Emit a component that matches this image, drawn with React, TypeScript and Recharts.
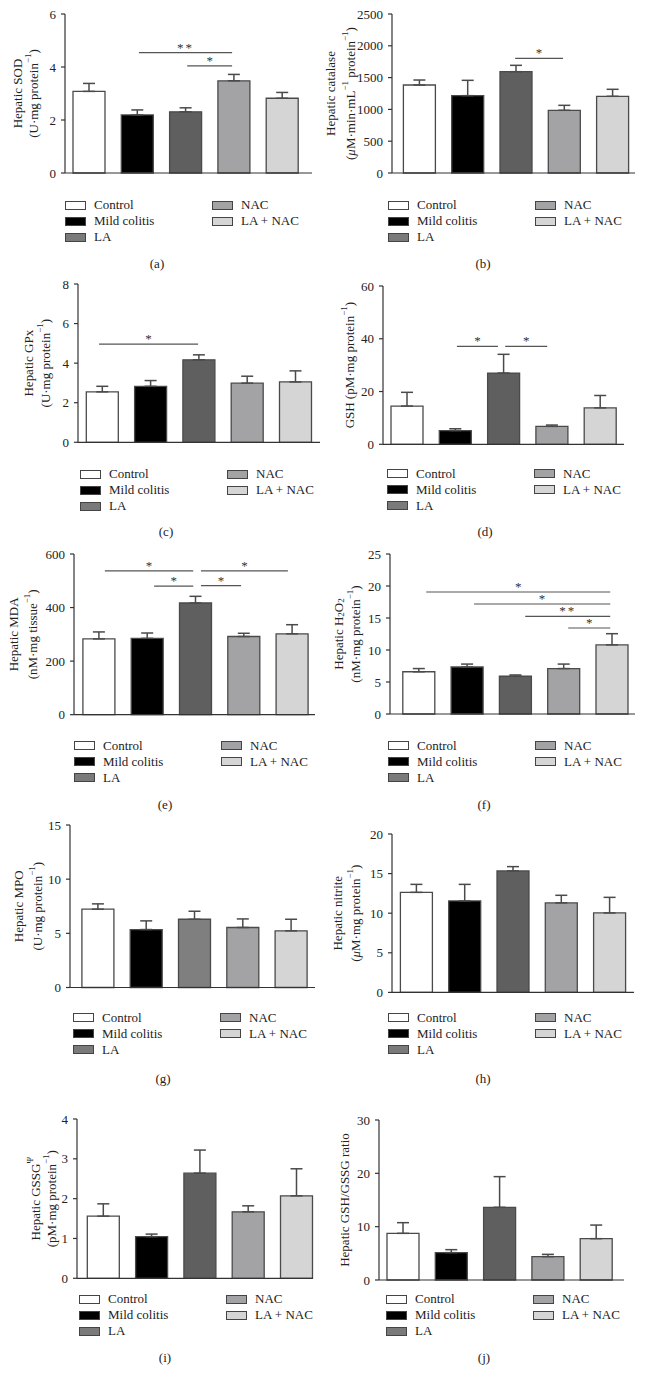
import { BarChart, Bar, XAxis, YAxis, ErrorBar, Cell, ReferenceLine } from 'recharts'

const groups = ['Control', 'Mild colitis', 'LA', 'NAC', 'LA + NAC']
const barFills = ['#ffffff', '#000000', '#5f5f5f', '#a3a3a6', '#d5d5d5']
const keyFills = ['#ffffff', '#000000', '#7a7a7a', '#a3a3a6', '#d5d5d5']

// mean and SEM per group
const sodMean = [3.08, 2.19, 2.31, 3.48, 2.82]
const sodSem = [0.3, 0.19, 0.15, 0.24, 0.22]
const catalaseMean = [1384, 1216, 1593, 986, 1206]
const catalaseSem = [78, 241, 100, 78, 110]
const gpxMean = [2.55, 2.83, 4.17, 2.99, 3.05]
const gpxSem = [0.28, 0.29, 0.25, 0.35, 0.56]
const gshMean = [14.5, 5.2, 27.0, 6.8, 13.8]
const gshSem = [5.2, 0.7, 7.1, 0.5, 4.7]
const mdaMean = [283, 285, 417, 292, 302]
const mdaSem = [26, 20, 25, 12, 34]
const h2o2Mean = [6.6, 7.34, 5.9, 7.1, 10.8]
const h2o2Sem = [0.5, 0.46, 0.2, 0.7, 1.75]
const mpoMean = [7.23, 5.35, 6.3, 5.54, 5.23]
const mpoSem = [0.49, 0.8, 0.74, 0.79, 1.07]
const nitriteMean = [12.63, 11.55, 15.34, 11.3, 10.03]
const nitriteSem = [1.01, 2.09, 0.54, 0.96, 1.97]
const gssgMean = [1.56, 1.045, 2.64, 1.67, 2.07]
const gssgSem = [0.31, 0.065, 0.58, 0.15, 0.68]
const ratioMean = [8.75, 5.13, 13.63, 4.38, 7.75]
const ratioSem = [2.0, 0.56, 5.75, 0.43, 2.55]

const sodTicks = [0, 2, 4, 6]
const catalaseTicks = [0, 500, 1000, 1500, 2000, 2500]
const gpxTicks = [0, 2, 4, 6, 8]
const gshTicks = [0, 20, 40, 60]
const mdaTicks = [0, 200, 400, 600]
const h2o2Ticks = [0, 5, 10, 15, 20, 25]
const mpoTicks = [0, 5, 10, 15]
const nitriteTicks = [0, 5, 10, 15, 20]
const gssgTicks = [0, 1, 2, 3, 4]
const ratioTicks = [0, 10, 20, 30]

// significance bars: from/to in bar units (bar i centred at i + 0.5), y in data units
const sodSig = [
  { from: 1.53, to: 3.46, y: 4.54, mark: '**' },
  { from: 2.53, to: 3.46, y: 4.04, mark: '*' },
]
const catalaseSig = [{ from: 2.48, to: 3.47, y: 1803, mark: '*' }]
const gpxSig = [{ from: 0.43, to: 2.48, y: 4.96, mark: '*' }]
const gshSig = [
  { from: 1.53, to: 2.38, y: 37.1, mark: '*' },
  { from: 2.53, to: 3.4, y: 37.1, mark: '*' },
]
const mdaSig = [
  { from: 0.62, to: 2.45, y: 537, mark: '*' },
  { from: 2.61, to: 4.41, y: 537, mark: '*' },
  { from: 1.64, to: 2.45, y: 480, mark: '*' },
  { from: 2.61, to: 3.44, y: 482, mark: '*' },
]
const h2o2Sig = [
  { from: 0.65, to: 4.46, y: 19.06, mark: '*' },
  { from: 1.64, to: 4.46, y: 17.19, mark: '*' },
  { from: 2.7, to: 4.46, y: 15.25, mark: '**' },
  { from: 3.59, to: 4.46, y: 13.44, mark: '*' },
]

type Seg = { t: string; sup?: boolean; sub?: boolean; it?: boolean }
type Sig = { from: number; to: number; y: number; mark: string }

const FONT = '"Liberation Serif", "Times New Roman", serif'
const BAND = 48.3
const AXIS_W = 40
const COL_W = 323

const perProtein: Seg[] = [{ t: '(U·mg protein' }, { t: '−1', sup: true }, { t: ')' }]

const TitleLine = ({ segs, x, y }: { segs: Seg[]; x: number; y: number }) => {
  let shift = 0
  return (
    <text
      x={x}
      y={y}
      transform={`rotate(-90 ${x} ${y})`}
      textAnchor="middle"
      dominantBaseline="central"
      fontSize={13}
      fontFamily={FONT}
      fill="#222"
    >
      {segs.map((s, k) => {
        const target = s.sup ? -5 : s.sub ? 3 : 0
        const dy = target - shift
        shift = target
        return (
          <tspan key={k} dy={dy} fontSize={s.sup || s.sub ? 9 : 13} fontStyle={s.it ? 'italic' : 'normal'}>
            {s.t}
          </tspan>
        )
      })}
    </text>
  )
}

const YTitle = ({ lines, xs, cy }: { lines: Seg[][]; xs: number[]; cy: number }) => (
  <g>
    {lines.map((segs, i) => (
      <TitleLine key={i} segs={segs} x={xs[i]} y={cy} />
    ))}
  </g>
)

// bracket drawn between two band centres, ends nudged by the fractional part
const bracket = (s: Sig, fi: number, ti: number) => (lp: any) => {
  const x1 = lp.x1 + (s.from - fi - 0.5) * BAND
  const x2 = lp.x2 + (s.to - ti - 0.5) * BAND
  return (
    <g>
      <line x1={x1} y1={lp.y1} x2={x2} y2={lp.y2} stroke="#555" strokeWidth={1.2} />
      <text
        x={(x1 + x2) / 2}
        y={lp.y1 - 1}
        textAnchor="middle"
        fontSize={13}
        fontFamily={FONT}
        fill="#333"
        letterSpacing={s.mark.length > 1 ? 2 : 0}
      >
        {s.mark}
      </text>
    </g>
  )
}

// legend block, positioned inside the panel box
const GroupKey = ({ x, y }: { x: number; y: number }) => (
  <div style={{ position: 'absolute', left: x, top: y, width: 260, height: 48 }}>
    {groups.map((g, i) => {
      const c = i < 3 ? 0 : 1
      const r = i < 3 ? i : i - 3
      return (
        <div
          key={g}
          style={{
            position: 'absolute',
            left: c * 147,
            top: r * 16,
            height: 16,
            display: 'flex',
            alignItems: 'center',
            whiteSpace: 'nowrap',
          }}
        >
          <span
            style={{
              display: 'inline-block',
              width: 21,
              height: 9,
              border: '1px solid #444',
              boxSizing: 'border-box',
              background: keyFills[i],
            }}
          />
          <span style={{ marginLeft: 8, fontSize: 13, lineHeight: '16px', color: '#222' }}>{g}</span>
        </div>
      )
    })}
  </div>
)

type PanelProps = {
  tag: string
  col: number
  mean: number[]
  sem: number[]
  ticks: number[]
  sigs?: Sig[]
  title: Seg[][]
  titleX: number[]
  axisX: number
  bandStart: number
  axisEnd: number
  top: number
  bottom: number
  keyX: number
  keyY: number
  tagX: number
  tagY: number
  fills?: string[]
}

const Panel = (p: PanelProps) => {
  const colLeft = p.col === 0 ? 0 : 322
  const boxTop = p.top - 10
  const rows = groups.map((g, i) => ({ group: g, mean: p.mean[i], err: [0, p.sem[i]] }))
  const padL = p.bandStart - p.axisX
  const padR = p.axisEnd - (p.bandStart + 5 * BAND)
  const h = p.bottom - p.top + 20
  const fills = p.fills ?? barFills
  return (
    <div style={{ position: 'absolute', left: colLeft, top: boxTop, width: COL_W, height: p.tagY - boxTop + 12 }}>
      <div style={{ position: 'absolute', left: 0, top: 0 }}>
        <BarChart
          width={COL_W}
          height={h}
          data={rows}
          barSize={32}
          margin={{ top: 10, bottom: 6, left: p.axisX - colLeft - AXIS_W, right: colLeft + COL_W - p.axisEnd }}
        >
          <XAxis
            dataKey="group"
            tick={false}
            tickLine={false}
            height={4}
            axisLine={{ stroke: '#333', strokeWidth: 1.2 }}
            padding={{ left: padL, right: padR }}
          />
          <YAxis
            width={AXIS_W}
            domain={[0, p.ticks[p.ticks.length - 1]]}
            ticks={p.ticks}
            interval={0}
            tickSize={4}
            tickMargin={5}
            axisLine={{ stroke: '#333', strokeWidth: 1.2 }}
            tickLine={{ stroke: '#333', strokeWidth: 1.2 }}
            tick={{ fontSize: 13, fontFamily: FONT, fill: '#222' }}
            label={<YTitle lines={p.title} xs={p.titleX.map(v => v - colLeft)} cy={10 + (p.bottom - p.top) / 2} />}
          />
          <Bar dataKey="mean" stroke="#4a4a4a" strokeWidth={1.3} isAnimationActive={false}>
            {rows.map((r, i) => (
              <Cell key={r.group} fill={fills[i]} />
            ))}
            <ErrorBar dataKey="err" width={6} stroke="#4a4a4a" strokeWidth={1.5} direction="y" />
          </Bar>
          {(p.sigs ?? []).map((s, i) => {
            const fi = Math.round(s.from - 0.5)
            const ti = Math.round(s.to - 0.5)
            return (
              <ReferenceLine
                key={i}
                segment={[
                  { x: groups[fi], y: s.y },
                  { x: groups[ti], y: s.y },
                ]}
                ifOverflow="visible"
                shape={bracket(s, fi, ti)}
              />
            )
          })}
        </BarChart>
      </div>
      <GroupKey x={p.keyX - colLeft} y={p.keyY - 8 - boxTop} />
      <div
        style={{
          position: 'absolute',
          left: p.tagX - colLeft - 30,
          width: 60,
          top: p.tagY - 8 - boxTop,
          lineHeight: '16px',
          textAlign: 'center',
          fontSize: 13,
          color: '#222',
        }}
      >
        {p.tag}
      </div>
    </div>
  )
}

export default function App() {
  return (
    <div
      style={{
        position: 'absolute',
        left: 0,
        top: 0,
        width: 645,
        height: 1399,
        background: '#fff',
        fontFamily: FONT,
        overflow: 'hidden',
      }}
    >
      <Panel
        tag="(a)"
        col={0}
        mean={sodMean}
        sem={sodSem}
        ticks={sodTicks}
        sigs={sodSig}
        title={[[{ t: 'Hepatic SOD' }], perProtein]}
        titleX={[17, 33]}
        axisX={65}
        bandStart={65}
        axisEnd={312}
        top={14}
        bottom={173}
        keyX={65}
        keyY={205}
        tagX={157}
        tagY={264}
      />
      <Panel
        tag="(b)"
        col={1}
        mean={catalaseMean}
        sem={catalaseSem}
        ticks={catalaseTicks}
        sigs={catalaseSig}
        title={[
          [{ t: 'Hepatic catalase' }],
          [
            { t: '(' },
            { t: 'μ', it: true },
            { t: 'M·min·mL' },
            { t: '−1', sup: true },
            { t: ' protein' },
            { t: '−1', sup: true },
            { t: ')' },
          ],
        ]}
        titleX={[330, 350]}
        axisX={392}
        bandStart={395.4}
        axisEnd={635}
        top={14}
        bottom={173}
        keyX={388}
        keyY={205}
        tagX={483}
        tagY={264}
      />
      <Panel
        tag="(c)"
        col={0}
        mean={gpxMean}
        sem={gpxSem}
        ticks={gpxTicks}
        sigs={gpxSig}
        title={[[{ t: 'Hepatic GPx' }], perProtein]}
        titleX={[28, 45]}
        axisX={78}
        bandStart={78.3}
        axisEnd={320}
        top={284}
        bottom={442.3}
        keyX={80}
        keyY={474}
        tagX={166}
        tagY={532}
      />
      <Panel
        tag="(d)"
        col={1}
        mean={gshMean}
        sem={gshSem}
        ticks={gshTicks}
        sigs={gshSig}
        title={[[{ t: 'GSH (pM·mg protein' }, { t: '−1', sup: true }, { t: ')' }]]}
        titleX={[349]}
        axisX={383}
        bandStart={383}
        axisEnd={624}
        top={285.7}
        bottom={444}
        keyX={387}
        keyY={474}
        tagX={485}
        tagY={532}
      />
      <Panel
        tag="(e)"
        col={0}
        mean={mdaMean}
        sem={mdaSem}
        ticks={mdaTicks}
        sigs={mdaSig}
        title={[[{ t: 'Hepatic MDA' }], [{ t: '(nM·mg tissue' }, { t: '−1', sup: true }, { t: ')' }]]}
        titleX={[13, 32]}
        axisX={74}
        bandStart={74.9}
        axisEnd={315}
        top={554.3}
        bottom={715}
        keyX={74}
        keyY={746}
        tagX={165}
        tagY={805}
      />
      <Panel
        tag="(f)"
        col={1}
        mean={h2o2Mean}
        sem={h2o2Sem}
        ticks={h2o2Ticks}
        sigs={h2o2Sig}
        title={[
          [{ t: 'Hepatic H' }, { t: '2', sub: true }, { t: 'O' }, { t: '2', sub: true }],
          [{ t: '(nM·mg protein' }, { t: '−1', sup: true }, { t: ')' }],
        ]}
        titleX={[338, 355]}
        axisX={390}
        bandStart={394.8}
        axisEnd={635}
        top={554.3}
        bottom={714.3}
        keyX={388}
        keyY={746}
        tagX={484}
        tagY={805}
      />
      <Panel
        tag="(g)"
        col={0}
        mean={mpoMean}
        sem={mpoSem}
        ticks={mpoTicks}
        title={[[{ t: 'Hepatic MPO' }], perProtein]}
        titleX={[18, 37]}
        axisX={70}
        bandStart={73.9}
        axisEnd={315}
        top={824.8}
        bottom={987.3}
        keyX={73}
        keyY={1018}
        tagX={163}
        tagY={1079}
        fills={['#ffffff', '#000000', '#7f7f7f', '#a3a3a6', '#d5d5d5']}
      />
      <Panel
        tag="(h)"
        col={1}
        mean={nitriteMean}
        sem={nitriteSem}
        ticks={nitriteTicks}
        title={[
          [{ t: 'Hepatic nitrite' }],
          [{ t: '(' }, { t: 'μ', it: true }, { t: 'M·mg protein' }, { t: '−1', sup: true }, { t: ')' }],
        ]}
        titleX={[337, 355]}
        axisX={392}
        bandStart={392.4}
        axisEnd={634}
        top={834.3}
        bottom={992.7}
        keyX={388}
        keyY={1018}
        tagX={483}
        tagY={1079}
      />
      <Panel
        tag="(i)"
        col={0}
        mean={gssgMean}
        sem={gssgSem}
        ticks={gssgTicks}
        title={[
          [{ t: 'Hepatic GSSG' }, { t: 'Ψ', sup: true }],
          [{ t: '(pM·mg protein' }, { t: '−1', sup: true }, { t: ')' }],
        ]}
        titleX={[35, 51]}
        axisX={77}
        bandStart={79.3}
        axisEnd={313}
        top={1119}
        bottom={1278.3}
        keyX={79}
        keyY={1299}
        tagX={165}
        tagY={1358}
      />
      <Panel
        tag="(j)"
        col={1}
        mean={ratioMean}
        sem={ratioSem}
        ticks={ratioTicks}
        title={[[{ t: 'Hepatic GSH/GSSG ratio' }]]}
        titleX={[344]}
        axisX={379}
        bandStart={379}
        axisEnd={624}
        top={1120}
        bottom={1280}
        keyX={386}
        keyY={1299}
        tagX={484}
        tagY={1358}
      />
    </div>
  )
}
